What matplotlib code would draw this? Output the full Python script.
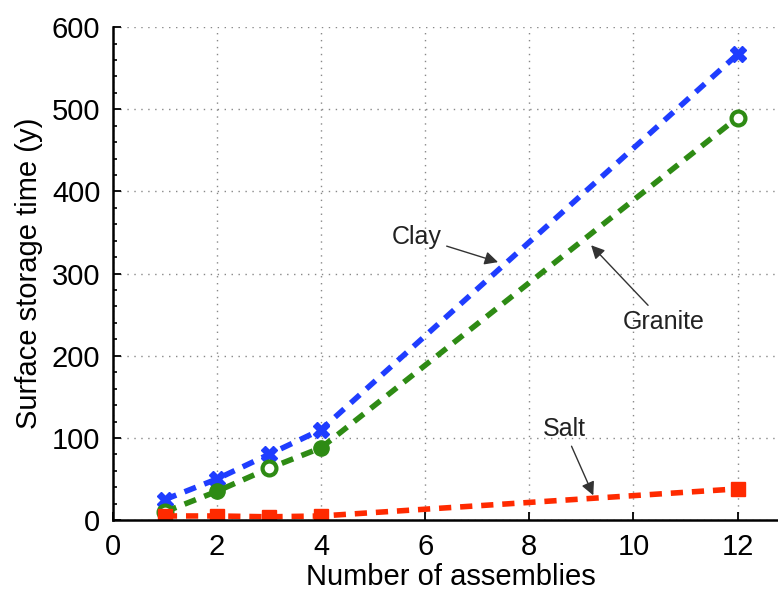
import numpy as np
import matplotlib
matplotlib.use("Agg")
import matplotlib.pyplot as plt
from matplotlib.ticker import MultipleLocator

plt.rcParams['font.family'] = ['Liberation Sans', 'DejaVu Sans']

# data
assemblies = [1, 2, 3, 4, 12]
clay = [25, 50, 80, 110, 567]
granite = [10, 35, 63, 88, 490]
salt = [5, 5, 4, 5, 38]

fig = plt.figure(figsize=(7.78, 5.91), dpi=100)
ax = fig.add_axes([0.145, 0.12, 0.87, 0.834])

ax.plot(assemblies, clay, '--', color='#1f3dff', lw=4, dashes=(2.2, 1.6),
        marker='X', ms=11, mec='#1f3dff')
ax.plot(assemblies, granite, '--', color='#2e8b14', lw=4, dashes=(2.2, 1.6))
# filled and hollow circles as in the original
ax.plot(assemblies, granite, 'o', color='#2e8b14', ms=11, markevery=[1, 3], ls='none')
ax.plot(assemblies, granite, 'o', color='#2e8b14', mfc='white', mew=3, ms=10,
        markevery=[0, 2, 4], ls='none')
ax.plot(assemblies, salt, '--', color='#ff2a00', lw=4, dashes=(2.2, 1.6),
        marker='s', ms=10, mec='#ff2a00')

ax.set_xlim(0, 13)
ax.set_ylim(0, 600)
ax.xaxis.set_major_locator(MultipleLocator(2))
ax.yaxis.set_major_locator(MultipleLocator(100))
ax.yaxis.set_minor_locator(MultipleLocator(20))
ax.tick_params(direction='in', labelsize=21, length=6, width=1.3, pad=9)
ax.tick_params(which='minor', direction='in', length=3, width=1.2)
ax.grid(True, which='major', ls=(0, (1, 4)), color='#888888', lw=1)
for s in ['top', 'right']:
    ax.spines[s].set_visible(False)
for s in ['left', 'bottom']:
    ax.spines[s].set_linewidth(1.8)

ax.set_xlabel('Number of assemblies', fontsize=21, labelpad=2)
ax.set_ylabel('Surface storage time (y)', fontsize=21, labelpad=6)

arrow = dict(arrowstyle='-|>', color='#333333', lw=1, mutation_scale=20)
ax.annotate('Clay', xy=(7.45, 313), xytext=(5.35, 345), fontsize=18,
            color='#222222', va='center', arrowprops=arrow)
ax.annotate('Granite', xy=(9.15, 337), xytext=(9.8, 241), fontsize=18,
            color='#222222', va='center', arrowprops=arrow)
ax.annotate('Salt', xy=(9.25, 27), xytext=(8.25, 111), fontsize=18,
            color='#222222', va='center', arrowprops=arrow)

fig.savefig('out.png', dpi=100)
